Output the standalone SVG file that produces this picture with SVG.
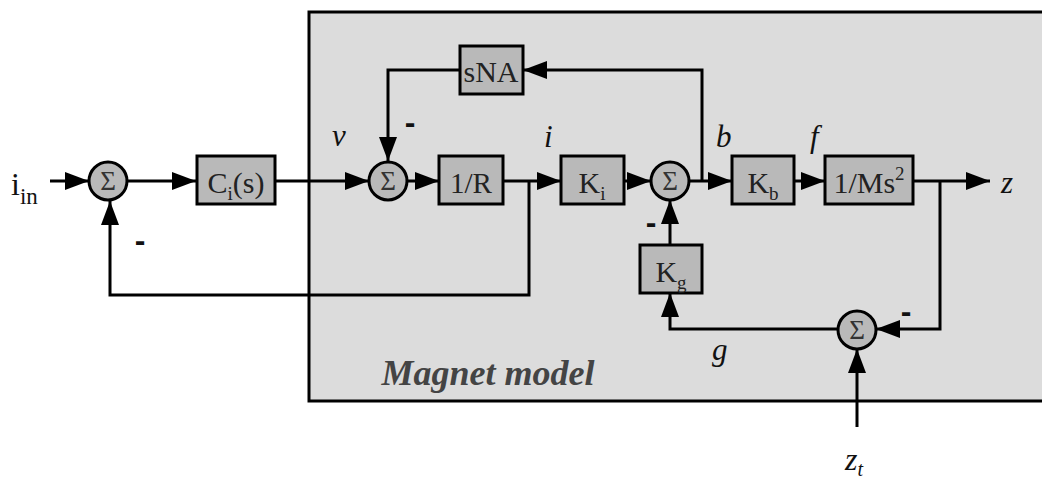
<svg xmlns="http://www.w3.org/2000/svg" width="1042" height="478" viewBox="0 0 1042 478">
<style>
.blk{fill:#b9b9b9;stroke:#000;stroke-width:3}
.sum{fill:#b9b9b9;stroke:#000;stroke-width:3}
.ln{fill:none;stroke:#000;stroke-width:3}
</style>
<defs>
<marker id="ah" markerUnits="userSpaceOnUse" markerWidth="24" markerHeight="18" refX="24" refY="9" orient="auto">
<path d="M0,0 L24,9 L0,18 z" fill="#000"/>
</marker>
</defs>
<rect width="1042" height="478" fill="#fff"/>
<g id="magnet-model">
<rect x="309" y="12" width="800" height="389" fill="#dcdcdc" stroke="#000" stroke-width="3"/>
<text x="488" y="385" font-family="Liberation Serif, serif" font-style="italic" font-weight="bold" font-size="36" fill="#444" text-anchor="middle" textLength="213" lengthAdjust="spacingAndGlyphs">Magnet model</text>
</g>
<g id="connectors">
<line class="ln" x1="50" y1="181" x2="89" y2="181" marker-end="url(#ah)"/>
<line class="ln" x1="127" y1="181" x2="196" y2="181" marker-end="url(#ah)"/>
<line class="ln" x1="275" y1="181" x2="369" y2="181" marker-end="url(#ah)"/>
<polyline class="ln" points="529,181 529,295 110,295 110,201" marker-end="url(#ah)"/>
<line class="ln" x1="407" y1="181" x2="439" y2="181" marker-end="url(#ah)"/>
<line class="ln" x1="503" y1="181" x2="561" y2="181" marker-end="url(#ah)"/>
<line class="ln" x1="624" y1="181" x2="651" y2="181" marker-end="url(#ah)"/>
<line class="ln" x1="689" y1="181" x2="732" y2="181" marker-end="url(#ah)"/>
<line class="ln" x1="794" y1="181" x2="825" y2="181" marker-end="url(#ah)"/>
<line class="ln" x1="913" y1="181" x2="990" y2="181" marker-end="url(#ah)"/>
<polyline class="ln" points="702,181 702,70 523,70" marker-end="url(#ah)"/>
<polyline class="ln" points="460,70 388,70 388,161" marker-end="url(#ah)"/>
<polyline class="ln" points="940,181 940,329 876,329" marker-end="url(#ah)"/>
<polyline class="ln" points="838,329 670,329 670,293" marker-end="url(#ah)"/>
<line class="ln" x1="670" y1="245" x2="670" y2="200" marker-end="url(#ah)"/>
<line class="ln" x1="857" y1="427" x2="857" y2="349" marker-end="url(#ah)"/>
</g>
<g font-family="Liberation Serif, serif" font-size="27" fill="#333" text-anchor="middle">
<g id="sum1"><circle class="sum" cx="108" cy="181" r="19"/><text x="108" y="190">Σ</text></g>
<g id="sum2"><circle class="sum" cx="388" cy="181" r="19"/><text x="388" y="190">Σ</text></g>
<g id="sum3"><circle class="sum" cx="670" cy="181" r="19"/><text x="670" y="190">Σ</text></g>
<g id="sum4"><circle class="sum" cx="857" cy="330" r="19"/><text x="857" y="339">Σ</text></g>
</g>
<g font-family="Liberation Serif, serif" font-size="30" fill="#222" text-anchor="middle">
<g id="Ci"><rect class="blk" x="197" y="156" width="78" height="48"/><text x="236" y="193">C<tspan font-size="19" dy="7">i</tspan><tspan dy="-7">(s)</tspan></text></g>
<g id="R"><rect class="blk" x="439" y="156" width="64" height="48"/><text x="471" y="193" textLength="42" lengthAdjust="spacingAndGlyphs">1/R</text></g>
<g id="Ki"><rect class="blk" x="561" y="156" width="63" height="48"/><text x="592" y="193">K<tspan font-size="19" dy="7">i</tspan></text></g>
<g id="Kb"><rect class="blk" x="732" y="156" width="62" height="48"/><text x="763" y="193">K<tspan font-size="19" dy="7">b</tspan></text></g>
<g id="Ms2"><rect class="blk" x="825" y="156" width="88" height="48"/><text x="869" y="193">1/Ms<tspan font-size="19" dy="-13">2</tspan></text></g>
<g id="sNA"><rect class="blk" x="460" y="46" width="63" height="48"/><text x="491" y="82" textLength="55" lengthAdjust="spacingAndGlyphs">sNA</text></g>
<g id="Kg"><rect class="blk" x="640" y="245" width="62" height="48"/><text x="671" y="282">K<tspan font-size="19" dy="7">g</tspan></text></g>
</g>
<g id="labels" font-family="Liberation Serif, serif" fill="#111">
<text x="11" y="195" font-size="32">i<tspan font-size="23" dy="9">in</tspan></text>
<g font-style="italic" font-size="31">
<text x="332" y="146">v</text>
<text x="544" y="147">i</text>
<text x="716" y="147">b</text>
<text x="810" y="147">f</text>
<text x="1001" y="193">z</text>
<text x="712" y="360">g</text>
<text x="845" y="470" font-size="32">z<tspan font-size="20" dy="6">t</tspan></text>
</g>
<g font-family="Liberation Sans, sans-serif" font-weight="bold" font-size="32" text-anchor="middle">
<text x="140" y="251">-</text>
<text x="410" y="133">-</text>
<text x="651" y="233">-</text>
<text x="906" y="322">-</text>
</g>
</g>
</svg>
